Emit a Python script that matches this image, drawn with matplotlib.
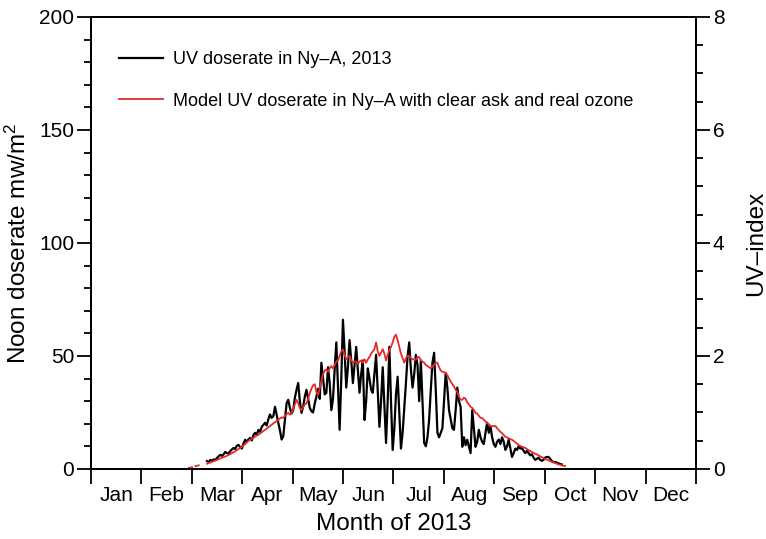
import numpy as np
import matplotlib.pyplot as plt

plt.rcParams['font.family'] = ['Liberation Sans', 'DejaVu Sans']
plt.rcParams['mathtext.fontset'] = 'custom'
plt.rcParams['mathtext.rm'] = 'Liberation Sans'
plt.rcParams['mathtext.it'] = 'Liberation Sans'

months = ['Jan', 'Feb', 'Mar', 'Apr', 'May', 'Jun',
          'Jul', 'Aug', 'Sep', 'Oct', 'Nov', 'Dec']

# measured noon dose rate (mW/m2), one value per day starting at day 70
meas_start = 70
meas_dose = [
    3.5, 3.0, 4.0, 3.6, 4.2, 4.0, 4.8, 5.6, 6.2, 5.8,
    6.5, 7.5, 7.0, 6.8, 7.9, 8.6, 9.3, 8.8, 10.3, 10.6,
    9.6, 9.0, 11.2, 12.9, 12.0, 13.1, 13.7, 12.6, 15.0, 16.0,
    15.2, 17.3, 16.4, 18.6, 19.5, 20.4, 19.2, 22.0, 24.1, 22.6,
    23.3, 27.5, 24.0, 20.4, 17.0, 13.0, 14.5, 22.0, 29.0, 30.6,
    27.0, 24.5, 26.0, 31.5, 35.0, 38.0, 30.0, 24.8, 27.5, 32.0,
    35.0, 31.0, 27.0, 25.5, 25.0, 29.0, 32.0, 35.5, 31.0, 47.0,
    40.0, 33.0, 33.7, 45.0, 38.0, 26.0, 31.0, 44.0, 56.0, 36.0,
    17.3, 40.0, 66.0, 52.0, 36.0, 45.0, 57.0, 48.0, 38.0, 46.0,
    54.0, 44.0, 33.7, 42.0, 48.0, 21.7, 30.0, 44.5, 40.0, 35.0,
    33.7, 42.0, 50.5, 35.0, 18.6, 30.0, 45.0, 28.0, 11.5, 30.0,
    54.0, 30.0, 8.4, 18.0, 33.0, 40.8, 25.0, 9.0, 16.0, 27.0,
    38.0, 50.0, 56.0, 44.0, 36.0, 42.0, 50.5, 46.0, 30.0, 48.0,
    30.0, 11.5, 10.0, 14.0, 21.7, 35.0, 47.0, 51.4, 35.0, 16.0,
    14.0, 16.0, 18.0, 30.0, 42.5, 36.0, 26.0, 22.0, 18.0, 17.3,
    26.0, 36.0, 30.0, 27.5, 9.8, 14.0, 10.5, 12.9, 10.0, 7.0,
    26.0, 18.0, 9.8, 12.0, 17.3, 14.0, 12.0, 11.0, 16.0, 20.4,
    16.0, 19.0, 14.0, 11.0, 9.8, 12.0, 13.0, 11.0, 14.0, 12.0,
    8.4, 10.0, 12.9, 9.0, 5.3, 7.0, 9.0, 8.4, 10.0, 9.0,
    9.3, 8.0, 7.0, 8.0, 7.0, 6.0, 6.5, 5.0, 4.0, 4.5,
    5.0, 4.0, 3.6, 4.0, 5.0, 5.3, 5.3, 4.5, 3.5, 3.0,
    3.1, 2.8, 2.5, 2.2, 2.0,
]

# clear-sky model with real ozone, one value per day starting at day 59
model_start = 59
model_dose = [
    0.5, 0.6, 0.8, np.nan, 1.2, 1.4, 1.6, np.nan, np.nan, np.nan, np.nan,
    2.3, 2.6, 2.8, 3.1, 3.4, 3.7, 4.0, 4.3, 4.6, 4.9,
    5.2, 5.5, 5.8, 6.2, 6.5, 7.0, 7.4, 7.8, 8.3, 8.8,
    9.3, 9.8, 10.4, 11.0, 11.7, 12.5, 12.9, 13.4, 13.8, 14.3,
    14.8, 15.2, 15.7, 16.2, 16.8, 17.3, 17.8, 18.4, 19.0, 19.6,
    20.1, 20.7, 21.2, 21.7, 22.3, 22.8, 22.6, 23.5, 24.2, 24.8,
    24.0, 24.8, 26.5, 28.5, 30.6, 29.0, 27.0, 26.0, 27.5, 28.5,
    29.0, 31.0, 33.5, 35.5, 37.0, 37.5, 34.0, 32.8, 35.5, 39.0,
    42.0, 43.5, 44.0, 43.0, 44.5, 45.5, 44.5, 46.0, 47.5, 48.0,
    50.0, 52.0, 52.8, 50.5, 48.5, 49.5, 50.0, 48.0, 47.0, 47.5,
    47.5, 46.5, 47.5, 48.0, 47.0, 48.5, 47.0, 48.5, 49.5, 51.0,
    52.0, 53.0, 56.0, 52.0, 50.0, 51.5, 53.0, 51.0, 48.0, 50.5,
    52.5, 54.0, 56.0, 58.5, 59.4, 57.0, 54.0, 51.0, 49.0, 47.0,
    49.0, 50.0, 50.0, 49.0, 48.5, 48.5, 48.3, 49.5, 49.5, 48.0,
    47.5, 47.0, 46.0, 45.5, 45.0, 44.5, 45.5, 46.0, 47.0, 47.0,
    45.0, 43.5, 43.0, 42.8, 42.5, 41.5, 40.0, 38.6, 37.5, 36.5,
    35.0, 34.0, 32.0, 30.6, 30.6, 31.5, 31.0, 29.5, 28.5, 27.5,
    27.0, 26.0, 24.8, 24.5, 23.5, 22.6, 22.5, 21.8, 21.0, 20.2,
    19.8, 19.0, 18.8, 19.0, 19.0, 18.0, 17.2, 16.4, 15.8, 15.0,
    14.2, 14.0, 13.5, 13.2, 12.9, 12.4, 11.8, 11.2, 10.6, 10.2,
    9.8, 9.6, 9.3, 8.8, 8.3, 7.9, 7.5, 7.1, 6.7, 6.4,
    6.0, 5.6, 5.2, 4.8, 4.4, 4.1, 3.8, 3.5, 3.1, 2.9,
    2.6, 2.3, 2.0, 1.8, 1.6, 1.4, 1.3,
]

meas_day = meas_start + np.arange(len(meas_dose))
model_day = model_start + np.arange(len(model_dose))

fig = plt.figure(figsize=(7.66, 5.39), dpi=100)
ax = fig.add_axes([0.1188, 0.130, 0.7898, 0.8386])

ax.plot(meas_day, meas_dose, color='black', lw=1.6,
        label='UV doserate in Ny\u2013A, 2013', zorder=2)
ax.plot(model_day, model_dose, color='#e42a2a', lw=1.3,
        label='Model UV doserate in Ny\u2013A with clear ask and real ozone', zorder=3)

ax.set_xlim(0, 365)
ax.set_ylim(0, 200)

# month boundaries as ticks, names centred in between
edges = np.linspace(0, 365, 13)
ax.set_xticks(edges)
ax.set_xticklabels([])
ax.set_xticks((edges[:-1] + edges[1:]) / 2, minor=True)
ax.set_xticklabels(months, minor=True)
ax.tick_params(axis='x', which='major', direction='out', length=11, width=1.3)
ax.tick_params(axis='x', which='minor', length=0, pad=12, labelsize=15)

ax.set_yticks(np.arange(0, 201, 50))
ax.set_yticks(np.arange(0, 201, 10), minor=True)
ax.tick_params(axis='y', which='major', direction='out', length=10, width=1.3,
               labelsize=15, pad=2)
ax.tick_params(axis='y', which='minor', direction='out', length=5, width=1.3)

for s in ax.spines.values():
    s.set_linewidth(1.4)

ax.set_xlabel('Month of 2013', fontsize=17.5, labelpad=6)
ax.set_ylabel('Noon doserate mw/m$^2$', fontsize=17.5, labelpad=6)

# UV index scale on the right (1 UV index = 25 mW/m2)
ax2 = ax.twinx()
ax2.set_ylim(0, 8)
ax2.set_yticks(np.arange(0, 9, 2))
ax2.set_yticks(np.arange(0, 8.01, 0.5), minor=True)
ax2.tick_params(axis='y', which='major', direction='out', length=10, width=1.3,
                labelsize=15, pad=2)
ax2.tick_params(axis='y', which='minor', direction='out', length=5, width=1.3)
for s in ax2.spines.values():
    s.set_linewidth(1.4)
ax2.set_ylabel('UV\u2013index', fontsize=17.5, labelpad=15)

ax.legend(loc='upper left', bbox_to_anchor=(0.02, 0.96), frameon=False,
          fontsize=13, handlelength=2.4, handletextpad=0.55, labelspacing=1.35)

fig.savefig('out.png', dpi=100)
